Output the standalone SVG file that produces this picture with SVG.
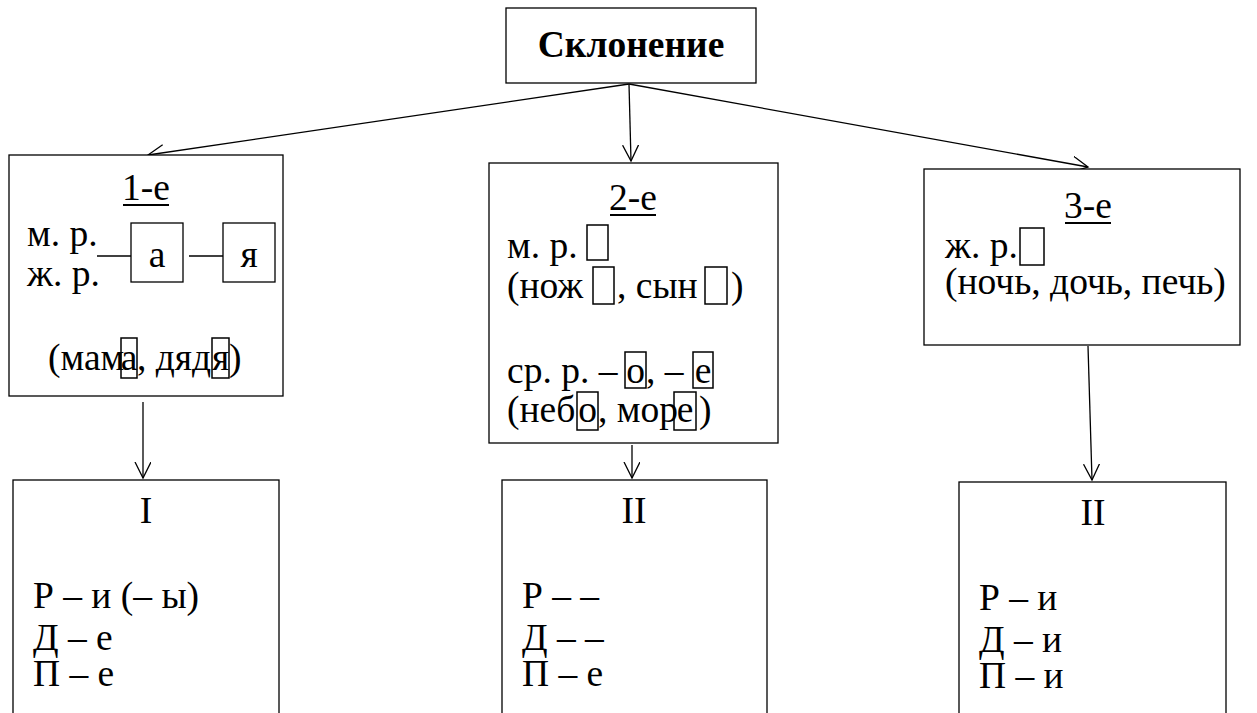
<svg xmlns="http://www.w3.org/2000/svg" width="1257" height="713" viewBox="0 0 1257 713">
<style>
.b{fill:#fff;stroke:#000;stroke-width:1.3}
.sb{fill:none;stroke:#000;stroke-width:1.5}
.t{font-family:"Liberation Serif","Times New Roman",serif;font-size:37.5px;fill:#000}
.c{text-anchor:middle}
.u{stroke:#000;stroke-width:2}
.ln{stroke:#000;stroke-width:1.3;fill:none}
</style>
<defs>
<marker id="ah" markerWidth="20" markerHeight="20" refX="16" refY="8" orient="auto" markerUnits="userSpaceOnUse">
<path d="M0,0 L16,8 L0,16" fill="none" stroke="#000" stroke-width="1.3"/>
</marker>
</defs>
<rect width="1257" height="713" fill="#fff"/>
<g id="connectors">
<line class="ln" x1="629" y1="84" x2="148" y2="155" marker-end="url(#ah)"/>
<line class="ln" x1="629" y1="84" x2="631" y2="161" marker-end="url(#ah)"/>
<line class="ln" x1="629" y1="84" x2="1088" y2="167" marker-end="url(#ah)"/>
<line class="ln" x1="143" y1="402" x2="143" y2="478" marker-end="url(#ah)"/>
<line class="ln" x1="632" y1="445" x2="632" y2="478" marker-end="url(#ah)"/>
<line class="ln" x1="1088" y1="346" x2="1092" y2="480" marker-end="url(#ah)"/>
</g>
<g id="root">
<rect class="b" x="506" y="8" width="250" height="75"/>
<text class="t c" x="631" y="57" font-weight="bold">Склонение</text>
</g>
<g id="decl1">
<rect class="b" x="9" y="155" width="274" height="241"/>
<text class="t c" x="146" y="200">1-е</text>
<line class="u" x1="123" y1="205" x2="169" y2="205"/>
<text class="t" x="27" y="246">м. р.</text>
<text class="t" x="27" y="286">ж. р.</text>
<line class="ln" x1="97" y1="256" x2="133" y2="256"/>
<rect class="b" x="131" y="223" width="52" height="59"/>
<text class="t c" x="157" y="267">а</text>
<line class="ln" x1="189" y1="256" x2="223" y2="256"/>
<rect class="b" x="223" y="223" width="52" height="59"/>
<text class="t c" x="249" y="267">я</text>
<text class="t" y="370"><tspan x="48">(мам</tspan><tspan x="129" text-anchor="middle">а</tspan><tspan x="137">, дяд</tspan><tspan x="220.5" text-anchor="middle">я</tspan><tspan x="229">)</tspan></text>
<rect class="sb" x="121" y="338" width="16" height="40"/>
<rect class="sb" x="212" y="338" width="17" height="40"/>
</g>
<g id="decl2">
<rect class="b" x="489" y="163" width="289" height="280"/>
<text class="t c" x="633" y="210">2-е</text>
<line class="u" x1="610" y1="215" x2="656" y2="215"/>
<text class="t" x="507" y="258">м. р.</text>
<rect class="sb" x="587" y="225" width="21" height="35"/>
<text class="t" y="298"><tspan x="507">(нож</tspan><tspan x="617">, сын</tspan><tspan x="731">)</tspan></text>
<rect class="sb" x="593" y="267" width="21" height="37"/>
<rect class="sb" x="705" y="267" width="22" height="37"/>
<text class="t" y="383"><tspan x="507">ср. р. – </tspan><tspan x="635.5" text-anchor="middle">о</tspan><tspan x="646">, – </tspan><tspan x="703" text-anchor="middle">е</tspan></text>
<rect class="sb" x="625" y="352" width="21" height="36"/>
<rect class="sb" x="693" y="352" width="20" height="36"/>
<text class="t" y="422"><tspan x="507">(неб</tspan><tspan x="587.5" text-anchor="middle">о</tspan><tspan x="598">, мор</tspan><tspan x="685" text-anchor="middle">е</tspan><tspan x="699">)</tspan></text>
<rect class="sb" x="577" y="392" width="21" height="38"/>
<rect class="sb" x="674" y="392" width="22" height="38"/>
</g>
<g id="decl3">
<rect class="b" x="924" y="169" width="316" height="176"/>
<text class="t c" x="1088" y="218">3-е</text>
<line class="u" x1="1065" y1="223" x2="1111" y2="223"/>
<text class="t" x="945" y="258">ж. р.</text>
<rect class="sb" x="1020" y="228" width="24" height="37"/>
<text class="t" x="945" y="294">(ночь, дочь, печь)</text>
</g>
<g id="type1">
<rect class="b" x="13" y="480" width="266" height="250"/>
<text class="t c" x="146" y="523">I</text>
<text class="t" x="33" y="608">Р – и (– ы)</text>
<text class="t" x="33" y="650">Д – е</text>
<text class="t" x="33" y="686">П – е</text>
</g>
<g id="type2a">
<rect class="b" x="502" y="480" width="265" height="250"/>
<text class="t c" x="634" y="523">II</text>
<text class="t" x="522" y="608">Р – –</text>
<text class="t" x="522" y="650">Д – –</text>
<text class="t" x="522" y="686">П – е</text>
</g>
<g id="type2b">
<rect class="b" x="959" y="482" width="267" height="250"/>
<text class="t c" x="1093" y="525">II</text>
<text class="t" x="979" y="610">Р – и</text>
<text class="t" x="979" y="652">Д – и</text>
<text class="t" x="979" y="688">П – и</text>
</g>
</svg>
